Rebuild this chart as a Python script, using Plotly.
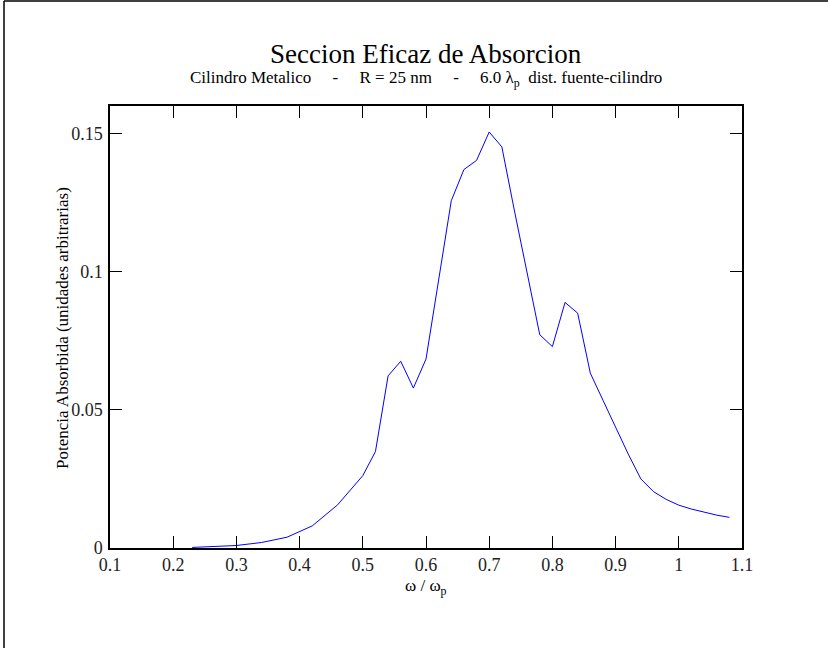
import plotly.graph_objects as go

# Data
omega = [0.23, 0.27, 0.30, 0.34, 0.38, 0.42, 0.46, 0.50, 0.52, 0.54, 0.56, 0.58,
         0.60, 0.62, 0.64, 0.66, 0.68, 0.70, 0.72, 0.74, 0.76, 0.78, 0.80, 0.82,
         0.84, 0.86, 0.88, 0.90, 0.92, 0.94, 0.96, 0.98, 1.00, 1.02, 1.04, 1.06, 1.08]
potencia = [0.0002, 0.0005, 0.0009, 0.0020, 0.0039, 0.0080, 0.0156, 0.0262, 0.0349,
            0.0623, 0.0676, 0.0579, 0.0684, 0.0970, 0.1257, 0.1370, 0.1403, 0.1506,
            0.1452, 0.1220, 0.0993, 0.0772, 0.0729, 0.0889, 0.0850, 0.0633, 0.0535,
            0.0437, 0.0340, 0.0250, 0.0204, 0.0176, 0.0155, 0.0141, 0.0129, 0.0119, 0.0111]

x_tickvals = [0.1, 0.2, 0.3, 0.4, 0.5, 0.6, 0.7, 0.8, 0.9, 1.0, 1.1]
x_ticktext = ["0.1", "0.2", "0.3", "0.4", "0.5", "0.6", "0.7", "0.8", "0.9", "1", "1.1"]
y_tickvals = [0, 0.05, 0.1, 0.15]
y_ticktext = ["0", "0.05", "0.1", "0.15"]

FONT = "Liberation Serif, Times New Roman, serif"
W, H = 828, 648
L, R, T, B = 110, 86, 106, 100
PW, PH = W - L - R, H - T - B

def px_to_paper_x(px):
    return (px - L) / PW

def px_to_paper_y(py):
    return (H - B - py) / PH

fig = go.Figure()
fig.add_trace(go.Scatter(x=omega, y=potencia, mode="lines",
                         line=dict(color="#0000ff", width=1), showlegend=False))

axis_common = dict(showline=True, linecolor="black", linewidth=1.5, mirror="ticks",
                   ticks="inside", ticklen=12, tickwidth=1.2, tickcolor="black",
                   showgrid=False, zeroline=False,
                   tickfont=dict(family=FONT, size=18, color="#222222"))

fig.update_xaxes(range=[0.1, 1.1], tickmode="array", tickvals=x_tickvals,
                 ticktext=x_ticktext, ticklabelstandoff=0, **axis_common)
fig.update_yaxes(range=[0, 0.16], tickmode="array", tickvals=y_tickvals,
                 ticktext=y_ticktext, ticklabelstandoff=2, **axis_common)

sp = "\u00a0"
subtitle = ("Cilindro Metalico" + sp * 5 + "-" + sp * 5 + "R = 25 nm" + sp * 5 + "-" + sp * 5
            + "6.0 λ<sub>p</sub>" + sp + " dist. fuente-cilindro")

fig.add_annotation(text="Seccion Eficaz de Absorcion", xref="paper", yref="paper",
                   x=0.5, y=px_to_paper_y(54), xanchor="center", yanchor="middle",
                   showarrow=False, font=dict(family=FONT, size=27, color="black"))
fig.add_annotation(text=subtitle, xref="paper", yref="paper",
                   x=0.5, y=px_to_paper_y(79), xanchor="center", yanchor="middle",
                   showarrow=False, font=dict(family=FONT, size=17, color="black"))

# axis titles
fig.add_annotation(text="ω / ω<sub>p</sub>", xref="paper", yref="paper",
                   x=px_to_paper_x(426), y=px_to_paper_y(574), xanchor="center", yanchor="top",
                   showarrow=False, font=dict(family=FONT, size=17, color="black"))
fig.add_annotation(text="Potencia Absorbida (unidades arbitrarias)", xref="paper", yref="paper",
                   x=px_to_paper_x(62), y=px_to_paper_y(328), xanchor="center", yanchor="middle",
                   textangle=-90, showarrow=False, font=dict(family=FONT, size=17, color="black"))

# page frame lines (top and left)
fig.add_shape(type="line", xref="paper", yref="paper",
              x0=px_to_paper_x(4), x1=px_to_paper_x(830), y0=px_to_paper_y(1), y1=px_to_paper_y(1),
              line=dict(color="black", width=1.5))
fig.add_shape(type="line", xref="paper", yref="paper",
              x0=px_to_paper_x(4), x1=px_to_paper_x(4), y0=px_to_paper_y(1), y1=px_to_paper_y(650),
              line=dict(color="black", width=1.5))

fig.update_layout(width=W, height=H, margin=dict(l=L, r=R, t=T, b=B),
                  plot_bgcolor="white", paper_bgcolor="white",
                  font=dict(family=FONT, color="black"))

fig.write_html("out.html")
